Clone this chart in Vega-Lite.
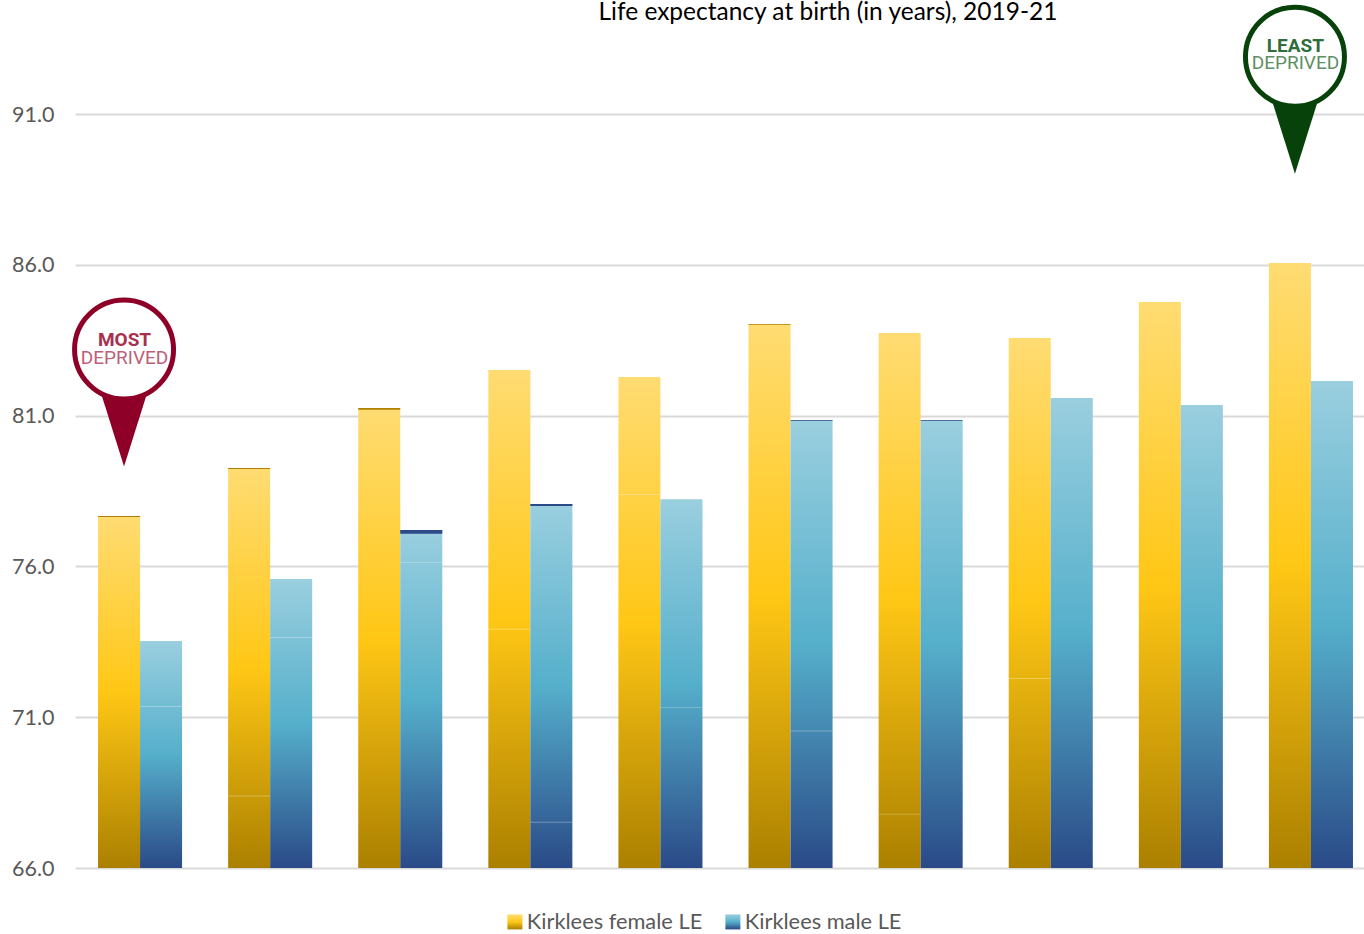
{
  "$schema": "https://vega.github.io/schema/vega-lite/v6.json",
  "width": 1290,
  "height": 868,
  "autosize": {"type": "none"},
  "padding": {"left": 74, "top": 0, "right": 0, "bottom": 66},
  "background": "white",
  "title": {
    "text": "Life expectancy at birth (in years), 2019-21",
    "font": "Lato",
    "fontSize": 24.5,
    "fontWeight": "normal",
    "color": "#000000",
    "anchor": "middle",
    "frame": "group",
    "dx": 109,
    "offset": -28
  },
  "datasets": {
    "le": [
      {"decile": "1", "series": "Kirklees female LE", "le": 77.67, "capBase": 77.64, "seam": null},
      {"decile": "1", "series": "Kirklees male LE", "le": 73.53, "capBase": null, "seam": 71.37},
      {"decile": "2", "series": "Kirklees female LE", "le": 79.26, "capBase": 79.23, "seam": 68.4},
      {"decile": "2", "series": "Kirklees male LE", "le": 75.58, "capBase": null, "seam": 73.66},
      {"decile": "3", "series": "Kirklees female LE", "le": 81.25, "capBase": 81.19, "seam": null},
      {"decile": "3", "series": "Kirklees male LE", "le": 77.21, "capBase": 77.08, "seam": 76.15},
      {"decile": "4", "series": "Kirklees female LE", "le": 82.51, "capBase": null, "seam": 73.93},
      {"decile": "4", "series": "Kirklees male LE", "le": 78.07, "capBase": 78.0, "seam": 67.53},
      {"decile": "5", "series": "Kirklees female LE", "le": 82.28, "capBase": null, "seam": 78.4},
      {"decile": "5", "series": "Kirklees male LE", "le": 78.23, "capBase": null, "seam": 71.34},
      {"decile": "6", "series": "Kirklees female LE", "le": 84.04, "capBase": 84.01, "seam": null},
      {"decile": "6", "series": "Kirklees male LE", "le": 80.85, "capBase": 80.82, "seam": 70.56},
      {"decile": "7", "series": "Kirklees female LE", "le": 83.74, "capBase": null, "seam": 67.8},
      {"decile": "7", "series": "Kirklees male LE", "le": 80.85, "capBase": 80.82, "seam": null},
      {"decile": "8", "series": "Kirklees female LE", "le": 83.57, "capBase": null, "seam": 72.3},
      {"decile": "8", "series": "Kirklees male LE", "le": 81.58, "capBase": null, "seam": null},
      {"decile": "9", "series": "Kirklees female LE", "le": 84.77, "capBase": null, "seam": null},
      {"decile": "9", "series": "Kirklees male LE", "le": 81.35, "capBase": null, "seam": null},
      {"decile": "10", "series": "Kirklees female LE", "le": 86.06, "capBase": null, "seam": null},
      {"decile": "10", "series": "Kirklees male LE", "le": 82.15, "capBase": null, "seam": null}
    ],
    "pins": [
      {"decile": "1", "centre": 83.19, "ink": "#8F0028"},
      {"decile": "10", "centre": 92.9, "ink": "#06420A"}
    ],
    "pinText": [
      {"decile": "1", "line": "MOST", "at": 83.5, "kind": "top", "tone": "most"},
      {"decile": "1", "line": "DEPRIVED", "at": 82.91, "kind": "bottom", "tone": "most"},
      {"decile": "10", "line": "LEAST", "at": 93.26, "kind": "top", "tone": "least"},
      {"decile": "10", "line": "DEPRIVED", "at": 92.69, "kind": "bottom", "tone": "least"}
    ]
  },
  "data": {"name": "le"},
  "encoding": {
    "x": {
      "field": "decile",
      "type": "nominal",
      "sort": ["1", "2", "3", "4", "5", "6", "7", "8", "9", "10"],
      "axis": null,
      "scale": {"range": [1, 1302], "paddingInner": 0.354, "paddingOuter": 0.177}
    }
  },
  "layer": [
    {
      "transform": [{"filter": "datum.series === 'Kirklees female LE'"}],
      "mark": {
        "type": "bar",
        "strokeWidth": 0,
        "fill": {"gradient": "linear", "x1": 0, "y1": 0, "x2": 0, "y2": 1, "stops": [
          {"offset": 0, "color": "#FFDC73"},
          {"offset": 0.5, "color": "#FFC715"},
          {"offset": 1, "color": "#AB8000"}
        ]}
      },
      "encoding": {
        "xOffset": {"field": "series", "type": "nominal", "scale": {"domain": ["Kirklees female LE", "Kirklees male LE"], "paddingInner": 0, "paddingOuter": 0}},
        "y": {
          "field": "le",
          "type": "quantitative",
          "scale": {"domain": [66, 94.78], "nice": false, "zero": false},
          "axis": {
            "values": [66, 71, 76, 81, 86, 91],
            "format": ".1f",
            "title": null,
            "domain": false,
            "ticks": false,
            "labelFont": "Lato",
            "labelFontSize": 21.5,
            "labelColor": "#595959",
            "labelPadding": 20,
            "labelOffset": 1,
            "grid": true,
            "gridColor": "#D9D9D9",
            "gridWidth": 2
          }
        },
        "y2": {"datum": 66},
        "stroke": {
          "field": "series",
          "type": "nominal",
          "scale": {"domain": ["Kirklees female LE"], "range": ["transparent"]},
          "legend": {
            "title": null,
            "orient": "none",
            "legendX": 430,
            "legendY": 911,
            "symbolType": "square",
            "symbolSize": 225,
            "symbolStrokeWidth": 0,
            "labelFont": "Lato",
            "labelFontSize": 21.8,
            "labelLimit": 300,
            "labelColor": "#595959",
            "labelOffset": 1
          }
        }
      }
    },
    {
      "transform": [{"filter": "datum.series === 'Kirklees male LE'"}],
      "mark": {
        "type": "bar",
        "strokeWidth": 0,
        "fill": {"gradient": "linear", "x1": 0, "y1": 0, "x2": 0, "y2": 1, "stops": [
          {"offset": 0, "color": "#9ACFDF"},
          {"offset": 0.5, "color": "#55AFCB"},
          {"offset": 1, "color": "#2A4A87"}
        ]}
      },
      "encoding": {
        "xOffset": {"field": "series", "type": "nominal"},
        "y": {"field": "le", "type": "quantitative"},
        "y2": {"datum": 66},
        "stroke": {
          "field": "series",
          "type": "nominal",
          "scale": {"domain": ["Kirklees male LE"], "range": ["transparent"]},
          "legend": {
            "title": null,
            "orient": "none",
            "legendX": 648,
            "legendY": 911,
            "symbolType": "square",
            "symbolSize": 225,
            "symbolStrokeWidth": 0,
            "labelFont": "Lato",
            "labelFontSize": 21.8,
            "labelLimit": 300,
            "labelColor": "#595959",
            "labelOffset": 1
          }
        }
      }
    },
    {
      "transform": [{"filter": "datum.capBase != null"}],
      "mark": {"type": "bar"},
      "encoding": {
        "xOffset": {"field": "series", "type": "nominal"},
        "y": {"field": "le", "type": "quantitative"},
        "y2": {"field": "capBase"},
        "fill": {
          "field": "series",
          "type": "nominal",
          "scale": {"domain": ["Kirklees female LE", "Kirklees male LE"], "range": ["#AD8000", "#2B4A87"]},
          "legend": null
        }
      }
    },
    {
      "transform": [{"filter": "datum.seam != null"}, {"calculate": "datum.seam - 0.03", "as": "seamBase"}],
      "mark": {"type": "bar", "color": "#FFFFFF", "opacity": 0.3},
      "encoding": {
        "xOffset": {"field": "series", "type": "nominal"},
        "y": {"field": "seam", "type": "quantitative"},
        "y2": {"field": "seamBase"}
      }
    },
    {
      "data": {"name": "pins"},
      "mark": {"type": "point", "shape": "M-22 47L22 47L0 117Z", "size": 4, "filled": true, "opacity": 1, "xOffset": -16, "clip": false},
      "encoding": {
        "y": {"field": "centre", "type": "quantitative"},
        "color": {"field": "ink", "type": "nominal", "scale": null, "legend": null}
      }
    },
    {
      "data": {"name": "pins"},
      "mark": {"type": "point", "shape": "circle", "size": 9801, "fill": "#FFFFFF", "fillOpacity": 1, "strokeOpacity": 1, "strokeWidth": 5, "xOffset": -16, "clip": false},
      "encoding": {
        "y": {"field": "centre", "type": "quantitative"},
        "stroke": {"field": "ink", "type": "nominal", "scale": null, "legend": null}
      }
    },
    {
      "data": {"name": "pinText"},
      "transform": [{"filter": "datum.kind === 'top'"}],
      "mark": {"type": "text", "font": "Roboto", "fontSize": 19, "fontWeight": "bold", "xOffset": -15.5, "clip": false},
      "encoding": {
        "y": {"field": "at", "type": "quantitative"},
        "text": {"field": "line"},
        "color": {"field": "tone", "type": "nominal", "scale": {"domain": ["most", "least"], "range": ["#A8304F", "#2F6E38"]}, "legend": null}
      }
    },
    {
      "data": {"name": "pinText"},
      "transform": [{"filter": "datum.kind === 'bottom'"}],
      "mark": {"type": "text", "font": "Roboto", "fontSize": 19, "xOffset": -15.5, "clip": false},
      "encoding": {
        "y": {"field": "at", "type": "quantitative"},
        "text": {"field": "line"},
        "color": {"field": "tone", "type": "nominal", "scale": {"domain": ["most", "least"], "range": ["#BC5F78", "#5E9064"]}, "legend": null}
      }
    }
  ],
  "resolve": {
    "scale": {"fill": "independent", "color": "independent", "stroke": "independent"},
    "legend": {"stroke": "independent"}
  },
  "config": {"view": {"stroke": null}}
}
